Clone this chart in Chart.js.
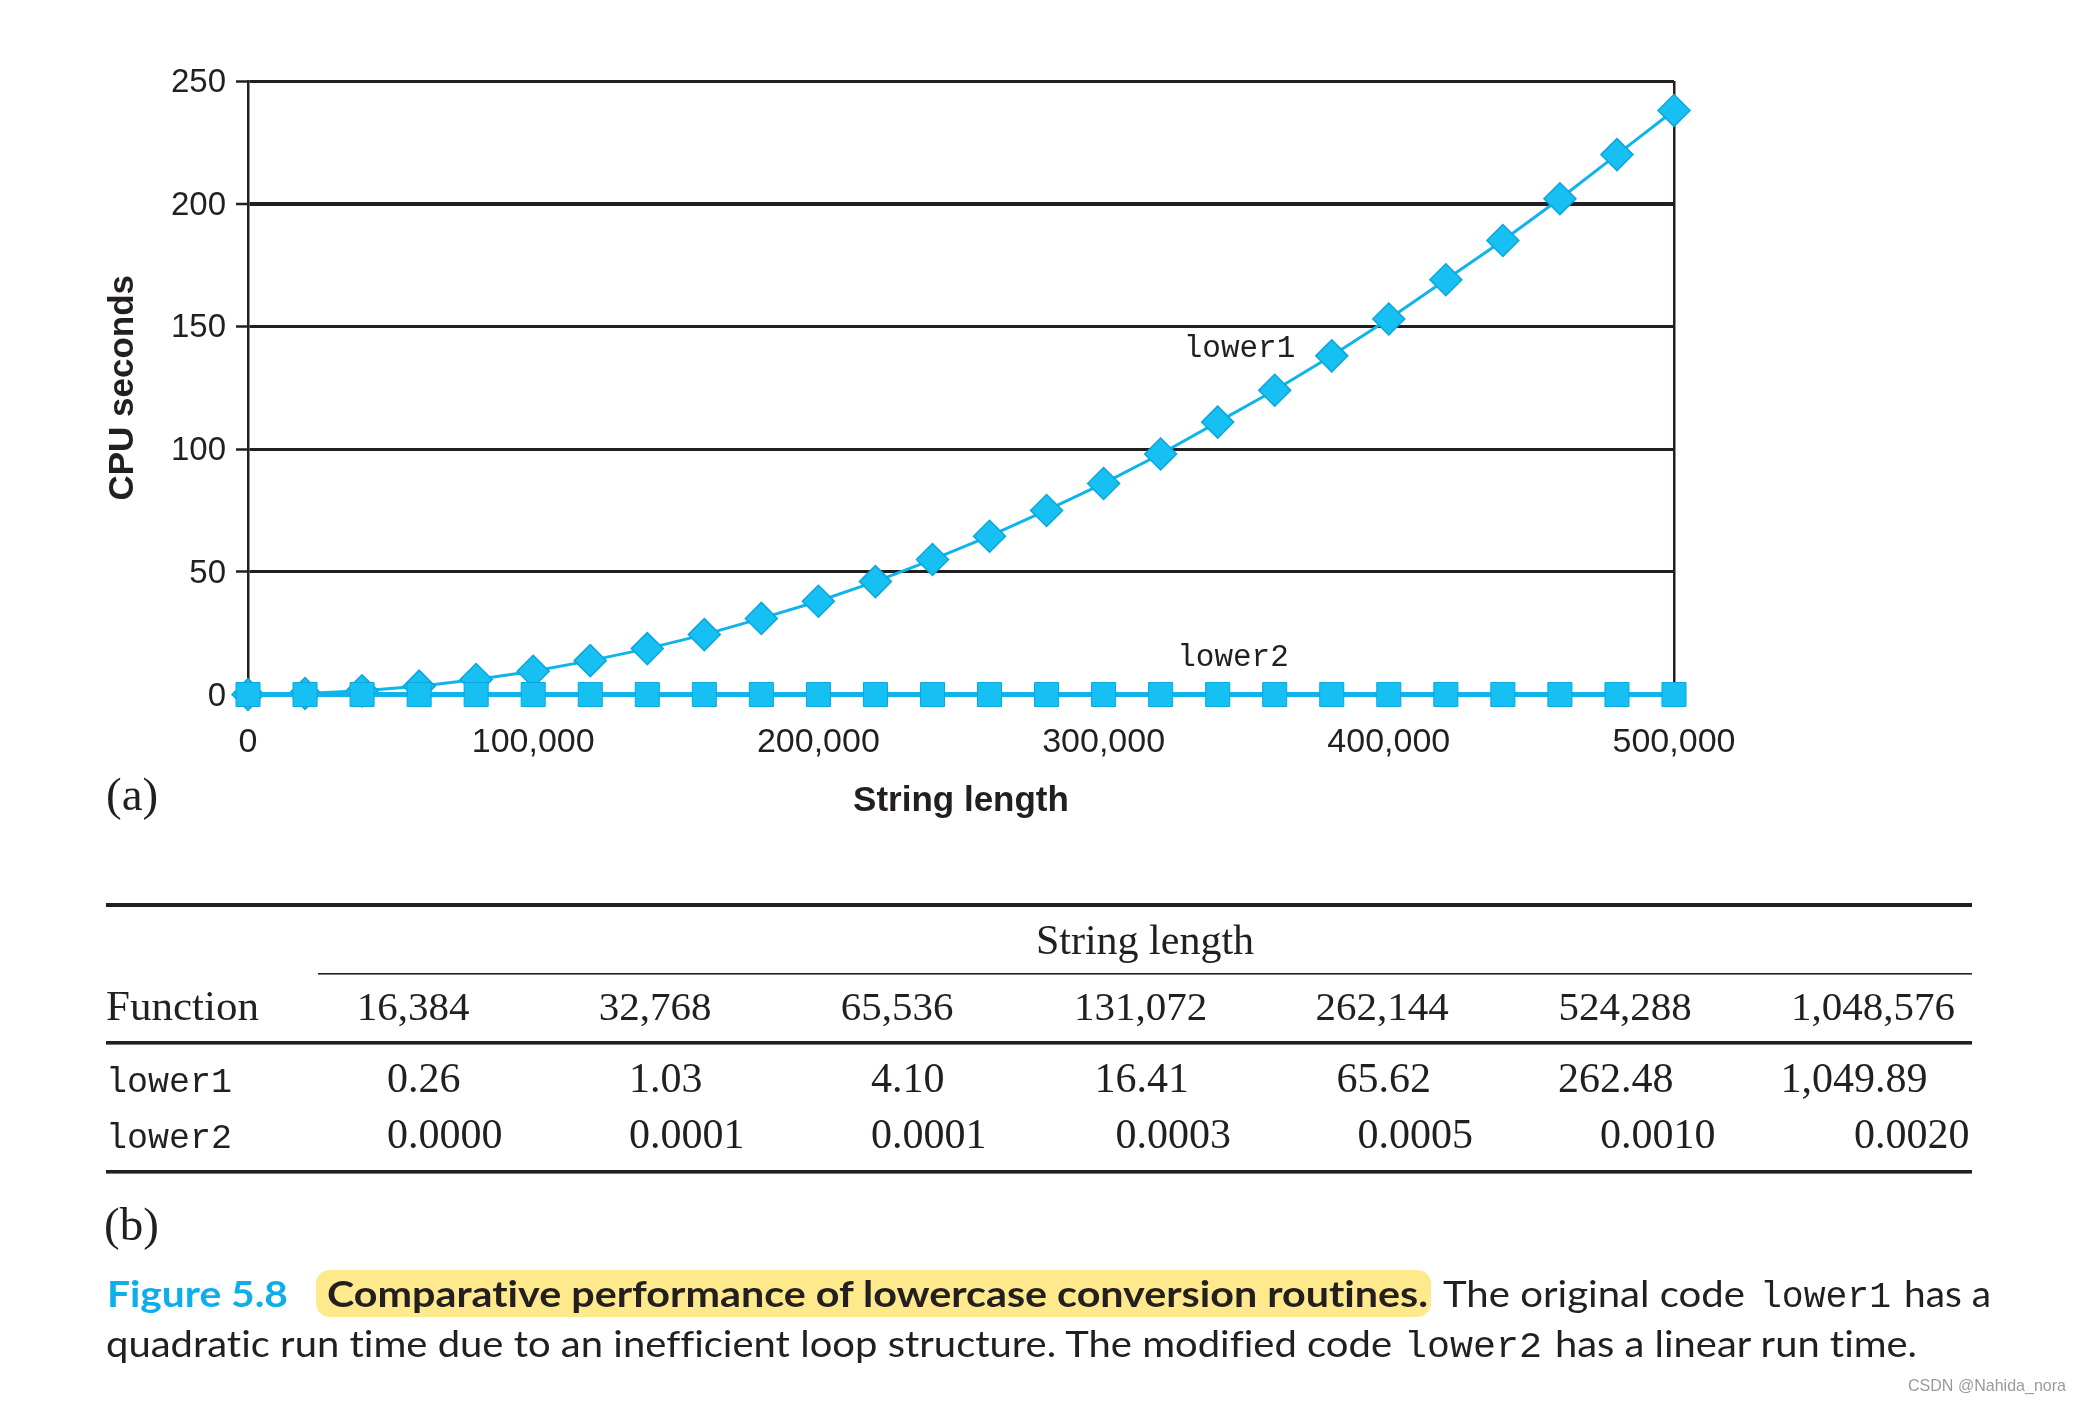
<!DOCTYPE html>
<html><head><meta charset="utf-8">
<script src="https://cdn.jsdelivr.net/npm/chart.js@4/dist/chart.umd.min.js"></script>
<style>
html,body{margin:0;padding:0;background:#fff;}
#wrap{position:relative;width:2078px;height:1402px;overflow:hidden;background:#fff;}
#chart{position:absolute;left:0;top:0;}
#overlay{position:absolute;left:0;top:0;font-variant-ligatures:none;font-feature-settings:"liga" 0, "clig" 0;}
</style></head>
<body><div id="wrap"><canvas id="chart" width="2078" height="860"></canvas>
<svg id="overlay" width="2078" height="1402" xmlns="http://www.w3.org/2000/svg"></svg></div>
<script>
// ---------- chart data (a) ----------
const seriesNames = ['lower1', 'lower2'];
const stringLengths = [0, 20000, 40000, 60000, 80000, 100000, 120000, 140000, 160000, 180000, 200000, 220000, 240000, 260000, 280000, 300000, 320000, 340000, 360000, 380000, 400000, 420000, 440000, 460000, 480000, 500000];
const lower1Seconds = [0, 0.4, 1.5, 3.4, 6.1, 9.5, 13.8, 18.7, 24.4, 31, 38, 46, 55, 64.5, 75, 86, 98, 111, 124, 138, 153, 169, 185, 202, 220, 238];
const lower2Seconds = [0, 0, 0, 0, 0, 0, 0, 0, 0, 0, 0, 0, 0, 0, 0, 0, 0, 0, 0, 0, 0, 0, 0, 0, 0, 0];
const xTickValues = [0, 100000, 200000, 300000, 400000, 500000];
const yTickValues = [0, 50, 100, 150, 200, 250];
const xAxisTitle = 'String length';
const yAxisTitle = 'CPU seconds';

// ---------- table data (b) ----------
const tableFunctions = ['lower1', 'lower2'];
const tableLengths = ['16,384', '32,768', '65,536', '131,072', '262,144', '524,288', '1,048,576'];
const tableLower1 = ['0.26', '1.03', '4.10', '16.41', '65.62', '262.48', '1,049.89'];
const tableLower2 = ['0.0000', '0.0001', '0.0001', '0.0003', '0.0005', '0.0010', '0.0020'];

const INK = '#231f20';
const CYAN_LINE = '#10b4ea';
const CYAN_FILL = '#16c0f2';
const CYAN_EDGE = '#0aa6dc';

const seriesLabels = {
  id: 'seriesLabels',
  afterDatasetsDraw(chart, args, opts) {
    const ctx = chart.ctx, xs = chart.scales.x, ys = chart.scales.y;
    ctx.save();
    ctx.font = opts.font; ctx.fillStyle = opts.color;
    ctx.textAlign = 'center'; ctx.textBaseline = 'middle';
    opts.items.forEach(it => ctx.fillText(it.text, xs.getPixelForValue(it.x), ys.getPixelForValue(it.y)));
    ctx.restore();
  }
};

const CANVAS_H = 860;
new Chart(document.getElementById('chart'), {
  type: 'line',
  data: {
    datasets: [
      {
        label: seriesNames[1],
        data: stringLengths.map((v, i) => ({x: v, y: lower2Seconds[i]})),
        order: 0,
        borderColor: CYAN_LINE, borderWidth: 5,
        pointStyle: 'rect', pointRadius: 17,
        pointBackgroundColor: CYAN_FILL, pointBorderColor: CYAN_EDGE, pointBorderWidth: 1,
        clip: false, tension: 0
      },
      {
        label: seriesNames[0],
        data: stringLengths.map((v, i) => ({x: v, y: lower1Seconds[i]})),
        order: 1,
        borderColor: CYAN_LINE, borderWidth: 3,
        pointStyle: 'rectRot', pointRadius: 16,
        pointBackgroundColor: CYAN_FILL, pointBorderColor: CYAN_EDGE, pointBorderWidth: 1.5,
        clip: false, tension: 0
      }
    ]
  },
  options: {
    responsive: false, animation: false, devicePixelRatio: 1,
    layout: {padding: {left: 0, right: 404, top: 81, bottom: 0}},
    plugins: {
      legend: {display: false}, tooltip: {enabled: false},
      seriesLabels: {
        font: '31px "Liberation Mono", "DejaVu Sans Mono", monospace', color: INK,
        items: [
          {text: seriesNames[0], x: 347650, y: 141},
          {text: seriesNames[1], x: 345370, y: 15}
        ]
      }
    },
    scales: {
      x: {
        type: 'linear', min: 0, max: 500000, z: 1,
        afterBuildTicks: s => { s.ticks = xTickValues.map(v => ({value: v})); },
        afterFit: s => { s.height = CANVAS_H - 694.5; },
        ticks: {
          color: INK, padding: 28, maxRotation: 0, autoSkip: false,
          font: {family: '"Liberation Sans", Arial, sans-serif', size: 34},
          callback: v => Number(v).toLocaleString('en-US')
        },
        grid: {
          drawTicks: false, lineWidth: 2.5,
          color: c => (c.tick && c.tick.value === 500000) ? INK : 'rgba(0,0,0,0)'
        },
        border: {display: false},
        title: {
          display: true, text: xAxisTitle, color: INK,
          font: {family: '"Liberation Sans", Arial, sans-serif', size: 35, weight: 'bold'},
          padding: {top: 0, bottom: 38}
        }
      },
      y: {
        type: 'linear', min: 0, max: 250, z: 1,
        afterBuildTicks: s => { s.ticks = yTickValues.map(v => ({value: v})); },
        afterFit: s => { s.width = 248; },
        ticks: {
          color: INK, padding: 10, labelOffset: 2,
          font: {family: '"Liberation Sans", Arial, sans-serif', size: 33}
        },
        grid: {
          tickLength: 12, tickColor: INK, tickWidth: 2.5,
          color: c => (c.tick && c.tick.value === 0) ? 'rgba(0,0,0,0)' : INK,
          lineWidth: c => (c.tick && c.tick.value === 200) ? 4 : 3
        },
        border: {display: true, color: INK, width: 2.5},
        title: {
          display: true, text: yAxisTitle, color: INK,
          font: {family: '"Liberation Sans", Arial, sans-serif', size: 35, weight: 'bold'},
          padding: {top: 102, bottom: 0}
        }
      }
    }
  },
  plugins: [seriesLabels]
});

// ---------- overlay: panel labels, table, caption ----------
const NS = 'http://www.w3.org/2000/svg';
const svg = document.getElementById('overlay');
function el(tag, attrs, text) {
  const e = document.createElementNS(NS, tag);
  for (const k in attrs) e.setAttribute(k, attrs[k]);
  if (text !== undefined) e.textContent = text;
  svg.appendChild(e);
  return e;
}
const SERIF = '"Liberation Serif", "Times New Roman", serif';
const MONO = '"Liberation Mono", "DejaVu Sans Mono", monospace';
const SANS = 'Lato, "Open Sans", sans-serif';

el('text', {x: 106, y: 810, 'font-family': SERIF, 'font-size': 47, fill: INK}, '(a)');
el('text', {x: 104, y: 1240, 'font-family': SERIF, 'font-size': 47, fill: INK}, '(b)');

// table rules
el('rect', {x: 106, y: 903, width: 1866, height: 4, fill: INK});
el('rect', {x: 318, y: 973, width: 1654, height: 1.6, fill: INK});
el('rect', {x: 106, y: 1041, width: 1866, height: 3.6, fill: INK});
el('rect', {x: 106, y: 1170, width: 1866, height: 3.6, fill: INK});

const colCenters = [413, 655, 897, 1140.6, 1382, 1625, 1873];
const decimalX = [408, 650, 892, 1136.5, 1378.5, 1621, 1875];
el('text', {x: 1145, y: 954, 'font-family': SERIF, 'font-size': 42, 'text-anchor': 'middle', fill: INK}, xAxisTitle);
el('text', {x: 106, y: 1020, 'font-family': SERIF, 'font-size': 43, fill: INK}, 'Function');
tableLengths.forEach((s, i) => el('text', {x: colCenters[i], y: 1020, 'font-family': SERIF, 'font-size': 41, 'text-anchor': 'middle', fill: INK}, s));
[[tableLower1, 1092], [tableLower2, 1148]].forEach(([row, by], r) => {
  el('text', {x: 106, y: by, 'font-family': MONO, 'font-size': 35, fill: INK}, tableFunctions[r]);
  row.forEach((s, i) => {
    const d = s.indexOf('.');
    el('text', {x: decimalX[i], y: by, 'font-family': SERIF, 'font-size': 42, 'text-anchor': 'end', fill: INK}, s.slice(0, d));
    el('text', {x: decimalX[i], y: by, 'font-family': SERIF, 'font-size': 42, 'text-anchor': 'start', fill: INK}, s.slice(d));
  });
});

// caption
el('rect', {x: 316, y: 1270, width: 1115, height: 47, rx: 14, fill: '#fee98c'});
function seg(s, x, y, len, attrs) {
  el('text', Object.assign({x: x, y: y, textLength: len, lengthAdjust: 'spacingAndGlyphs', fill: INK, 'font-family': SANS, 'font-size': 37}, attrs || {}), s);
}
seg('Figure 5.8', 107, 1307, 181, {fill: '#0eaeea', 'font-weight': 'bold'});
seg('Comparative performance of lowercase conversion routines.', 327, 1307, 1101, {'font-weight': 'bold'});
seg('The original code', 1443, 1307, 302);
seg('lower1', 1760, 1307, 131, {'font-family': MONO, 'font-size': 36});
seg('has a', 1904, 1307, 87);
seg('quadratic run time due to an inefficient loop structure. The modified code', 106, 1357, 1286);
seg('lower2', 1404, 1357, 138, {'font-family': MONO, 'font-size': 36});
seg('has a linear run time.', 1555, 1357, 362);
seg('CSDN @Nahida_nora', 1908, 1391, 158, {'font-family': '"Liberation Sans", Arial, sans-serif', 'font-size': 17, fill: '#9a9a9a'});
</script>
</body></html>
